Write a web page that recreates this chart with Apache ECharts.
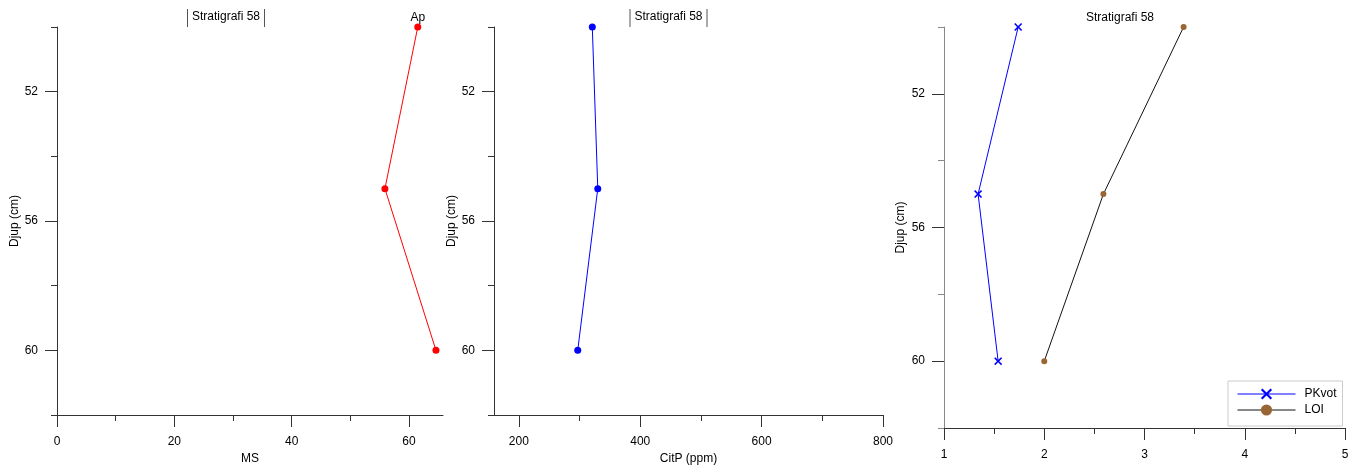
<!DOCTYPE html>
<html>
<head>
<meta charset="utf-8">
<title>Stratigrafi 58</title>
<script src="https://cdn.jsdelivr.net/npm/echarts@6/dist/echarts.min.js"></script>
<style>
  html, body { margin: 0; padding: 0; background: #fff; }
  #chart { width: 1364px; height: 466px; }
</style>
</head>
<body>
<div id="chart"></div>
<script>
// djup (cm) för varje prov
const depth = [50, 55, 60]
const ms = [61.5, 55.9, 64.6]
const citP = [321, 330, 297]
const pkvot = [1.74, 1.34, 1.54]
const loi = [3.39, 2.59, 2.0]

// tick labels
const depthTicks = [52, 56, 60]
const depthMinor = [50, 54, 58, 62]
const msTicks = [0, 20, 40, 60]
const msMinor = [10, 30, 50]
const citTicks = [200, 400, 600, 800]
const citMinor = [300, 500, 700]
const ratioTicks = [1, 2, 3, 4, 5]
const ratioMinor = [1.5, 2.5, 3.5, 4.5]

const font = 'Liberation Sans, Arial, sans-serif'
const txt = { color: '#000', fontSize: 12, fontFamily: font }

function pairs(xs){
  return xs.map((x, i) => [x, depth[i]])
}

// huvudaxel med etiketter
function majorX(grid, min, max, ticks, name){
  return {
    type: 'value', gridIndex: grid, min: min, max: max, position: 'bottom',
    name: name, nameLocation: 'middle', nameGap: 34, nameTextStyle: txt,
    axisLine: { show: true, onZero: false, lineStyle: { color: '#333', width: 1 } },
    axisTick: { show: true, customValues: ticks, length: 12, inside: false, lineStyle: { color: '#333' } },
    axisLabel: { customValues: ticks, margin: 21, ...txt },
    splitLine: { show: false }
  }
}
// bara små streck
function minorX(grid, min, max, ticks){
  return {
    type: 'value', gridIndex: grid, min: min, max: max, position: 'bottom',
    axisLine: { show: false, onZero: false },
    axisTick: { show: true, customValues: ticks, length: 6, lineStyle: { color: '#333' } },
    axisLabel: { show: false },
    splitLine: { show: false }
  }
}
function majorY(grid, color, gap){
  return {
    type: 'value', gridIndex: grid, min: 50, max: 62, inverse: true, position: 'left',
    name: 'Djup (cm)', nameLocation: 'middle', nameGap: gap, nameRotate: 90, nameTextStyle: txt,
    axisLine: { show: true, onZero: false, lineStyle: { color: color, width: 1 } },
    axisTick: { show: true, customValues: depthTicks, length: 12, lineStyle: { color: '#333' } },
    axisLabel: { customValues: depthTicks, margin: 19, ...txt },
    splitLine: { show: false }
  }
}
function minorY(grid, color){
  return {
    type: 'value', gridIndex: grid, min: 50, max: 62, inverse: true, position: 'left',
    axisLine: { show: false, onZero: false },
    axisTick: { show: true, customValues: depthMinor, length: 6, lineStyle: { color: color } },
    axisLabel: { show: false },
    splitLine: { show: false }
  }
}

// rubrik med lodräta streck på sidorna
function titleBox(cx, cy, w, framed){
  const els = [{
    type: 'text', x: cx, y: cy,
    style: { text: 'Stratigrafi 58', align: 'center', verticalAlign: 'middle', fill: '#000', fontSize: 12, fontFamily: font }
  }]
  if (framed) {
    els.push({ type: 'line', shape: { x1: cx - w / 2, y1: 9, x2: cx - w / 2, y2: 27 }, style: { stroke: '#555', lineWidth: 1 } })
    els.push({ type: 'line', shape: { x1: cx + w / 2, y1: 9, x2: cx + w / 2, y2: 27 }, style: { stroke: '#555', lineWidth: 1 } })
  }
  return els
}

const chart = echarts.init(document.getElementById('chart'))

const option = {
  animation: false,
  backgroundColor: '#fff',
  textStyle: { fontFamily: font },
  grid: [
    { left: 57, top: 27, width: 386, height: 388, outerBoundsMode: 'none', containLabel: false },
    { left: 494, top: 27, width: 389, height: 388, outerBoundsMode: 'none', containLabel: false },
    { left: 944, top: 27, width: 401, height: 401, outerBoundsMode: 'none', containLabel: false }
  ],
  xAxis: [
    majorX(0, 0, 65.8, msTicks, 'MS'),
    minorX(0, 0, 65.8, msMinor),
    majorX(1, 159, 800, citTicks, 'CitP (ppm)'),
    minorX(1, 159, 800, citMinor),
    majorX(2, 1, 5, ratioTicks, ''),
    minorX(2, 1, 5, ratioMinor)
  ],
  yAxis: [
    majorY(0, '#333', 36),
    minorY(0, '#333'),
    majorY(1, '#333', 36),
    minorY(1, '#333'),
    majorY(2, '#888', 37),
    minorY(2, '#888')
  ],
  legend: {
    left: 1228, top: 381, orient: 'vertical',
    data: ['PKvot', 'LOI'],
    itemWidth: 58, itemHeight: 14, itemGap: 4,
    padding: [7, 6, 10, 9],
    borderColor: '#ccc', borderWidth: 1,
    lineStyle: { width: 1 },
    textStyle: { ...txt, padding: [0, 0, 0, 4] }
  },
  graphic: [
    ...titleBox(226, 17, 77, true),
    ...titleBox(668.5, 17, 77, true),
    ...titleBox(1120, 18, 76, false)
  ],
  series: [
    {
      name: 'MS', type: 'line', xAxisIndex: 0, yAxisIndex: 0,
      data: pairs(ms),
      symbol: 'circle', symbolSize: 7,
      lineStyle: { color: '#ff0000', width: 1 },
      itemStyle: { color: '#ff0000' },
      label: {
        show: true, position: 'top', distance: 0, ...txt,
        formatter: (p) => p.dataIndex === 0 ? 'Ap' : ''
      }
    },
    {
      name: 'CitP', type: 'line', xAxisIndex: 2, yAxisIndex: 2,
      data: pairs(citP),
      symbol: 'circle', symbolSize: 7,
      lineStyle: { color: '#0000ff', width: 1 },
      itemStyle: { color: '#0000ff' }
    },
    {
      name: 'PKvot', type: 'line', xAxisIndex: 4, yAxisIndex: 4,
      data: pairs(pkvot),
      symbol: 'path://M0,1.4L1.4,0L5,3.6L8.6,0L10,1.4L6.4,5L10,8.6L8.6,10L5,6.4L1.4,10L0,8.6L3.6,5Z',
      symbolSize: 8,
      lineStyle: { color: '#0000ff', width: 1 },
      itemStyle: { color: '#0000ff' }
    },
    {
      name: 'LOI', type: 'line', xAxisIndex: 4, yAxisIndex: 4,
      data: pairs(loi),
      symbol: 'circle', symbolSize: 6,
      lineStyle: { color: '#111', width: 1 },
      itemStyle: { color: '#9a6534' }
    }
  ]
}

chart.setOption(option)
</script>
</body>
</html>
